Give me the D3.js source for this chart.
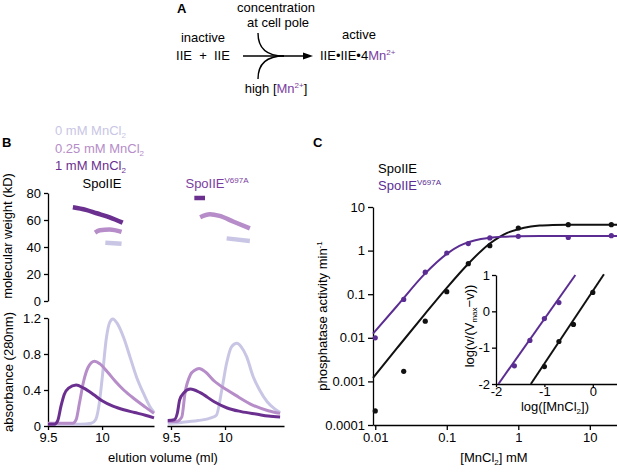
<!DOCTYPE html>
<html lang="en">
<head>
<meta charset="utf-8">
<title>SpoIIE manganese activation</title>
<script src="https://cdn.jsdelivr.net/npm/d3@7"></script>
<style>
  body { margin: 0; background: #fff; }
  svg { font-family: "Liberation Sans", Arial, sans-serif; }
  .axis path, .axis line { stroke: #000; stroke-width: 1.3; }
  .axis text { font-size: 13px; fill: #000; font-family: "Liberation Sans", Arial, sans-serif; }
  .lbl { font-size: 13px; }
</style>
</head>
<body>
<div id="chart"></div>
<script>
const w = 617, h = 473;

// ---------- data: panel B (gel filtration) ----------
const mnLabels = ["0 mM MnCl", "0.25 mM MnCl", "1 mM MnCl"];
const proteins = ["SpoIIE", "SpoIIE"];
const mwTicks = [0, 20, 40, 60, 80];
const absTicks = [0, 0.4, 0.8, 1.2];
const elutionTicks = [9.5, 10];

// absorbance traces [elution ml, A280]
const absWT_0 = [[9.5,0.02],[9.8,0.02],[9.9,0.03],[9.94,0.07],[9.97,0.22],[10.0,0.52],[10.04,0.98],[10.07,1.15],[10.1,1.19],[10.14,1.14],[10.2,0.98],[10.26,0.76],[10.32,0.54],[10.38,0.37],[10.44,0.22],[10.48,0.15]];
const absWT_025 = [[9.5,0.03],[9.73,0.03],[9.76,0.07],[9.79,0.25],[9.83,0.5],[9.87,0.65],[9.93,0.72],[9.98,0.69],[10.05,0.6],[10.12,0.5],[10.2,0.4],[10.3,0.3],[10.4,0.21],[10.48,0.14]];
const absWT_1 = [[9.5,0.02],[9.56,0.02],[9.59,0.06],[9.62,0.22],[9.65,0.35],[9.69,0.42],[9.76,0.455],[9.83,0.42],[9.92,0.35],[10.0,0.28],[10.1,0.22],[10.2,0.18],[10.3,0.15],[10.4,0.12],[10.48,0.09]];
const absMut_0 = [[9.47,0.03],[9.6,0.04],[9.75,0.06],[9.87,0.09],[9.92,0.12],[9.97,0.4],[10.015,0.7],[10.06,0.88],[10.11,0.92],[10.15,0.88],[10.2,0.77],[10.26,0.55],[10.32,0.4],[10.39,0.27],[10.46,0.19],[10.51,0.15]];
const absMut_025 = [[9.47,0.05],[9.55,0.05],[9.6,0.1],[9.63,0.37],[9.68,0.57],[9.72,0.62],[9.76,0.64],[9.82,0.6],[9.9,0.5],[10.02,0.4],[10.1,0.34],[10.26,0.23],[10.4,0.17],[10.51,0.14]];
const absMut_1 = [[9.47,0.06],[9.53,0.07],[9.56,0.15],[9.58,0.29],[9.62,0.37],[9.68,0.41],[9.77,0.37],[9.9,0.27],[10.02,0.2],[10.15,0.16],[10.3,0.13],[10.4,0.11],[10.51,0.1]];

// molecular weight traces [elution ml, kD]
const mwWT_0 = [[10.03,43.2],[10.18,42.4]];
const mwWT_025 = [[9.935,50.6],[9.98,52.4],[10.07,53],[10.18,51.2]];
const mwWT_1 = [[9.73,69.4],[9.85,67.5],[9.95,65],[10.07,62],[10.19,58]];
const mwMut_0 = [[10.015,46.4],[10.23,44.4]];
const mwMut_025 = [[9.77,62],[9.86,64.2],[9.95,63],[10.08,58.7],[10.23,53.8]];
const mwMut_1 = [[9.716,76.3],[9.815,76.3]];

// ---------- data: panel C (phosphatase activity) ----------
const conc = [0.01, 0.025, 0.05, 0.1, 0.2, 0.4, 1, 5, 20];
const actWT = [0.00021, 0.0017, 0.024, 0.114, 0.5, 1.3, 3.3, 3.93, 3.93];
const actMut = [0.01, 0.076, 0.32, 0.88, 1.45, 1.95, 2.13, 2.0, 2.2];
const fitWT = [[0.0093,0.0012],[0.02,0.0057],[0.05,0.036],[0.1,0.14],[0.2,0.5],[0.3,0.97],[0.4,1.45],[0.55,2.07],[0.7,2.55],[1,3.1],[1.5,3.55],[2,3.75],[3,3.88],[5,3.93],[10,3.93],[24,3.93]];
const fitMut = [[0.0093,0.0125],[0.02,0.053],[0.05,0.3],[0.1,0.84],[0.15,1.28],[0.2,1.55],[0.3,1.85],[0.4,1.98],[0.6,2.08],[1,2.13],[2,2.15],[5,2.15],[24,2.15]];
const actTicksY = [10, 1, 0.1, 0.01, 0.001, 0.0001];
const actTicksX = [0.01, 0.1, 1, 10];

// inset: Hill plot
const hillX_WT = [-1, -0.7, -0.4, 0];
const hillY_WT = [-1.52, -0.83, -0.36, 0.52];
const hillX_Mut = [-1.62, -1.3, -1.0, -0.7];
const hillY_Mut = [-1.5, -0.8, -0.2, 0.24];
const hillFitWT = [[-1.28,-2],[0.23,1.02]];
const hillFitMut = [[-1.95,-2],[-0.36,1.0]];
const hillTicksY = [1, 0, -1, -2];
const hillTicksX = [-2, -1, 0];

// ---------- styles ----------
const mnColor = ["#c9c6e5", "#b68dc8", "#6a2f8f"];
const mutPurple = "#5b2d92";
const labelPurple = "#7a3ea0";

const svg = d3.select("#chart").append("svg")
  .attr("width", w).attr("height", h);

// text with sub/superscript parts
function rich(g, x, y, parts, anchor) {
  const t = g.append("text").attr("x", x).attr("y", y)
    .attr("class", "lbl").attr("text-anchor", anchor || "start")
    .style("white-space", "pre");
  let shift = 0;
  parts.forEach(p => {
    const s = p.sup ? -5 : p.sub ? 3 : 0;
    const ts = t.append("tspan").text(p.t).attr("dy", s - shift);
    if (p.sup || p.sub) ts.attr("font-size", "8px");
    if (p.fill) ts.attr("fill", p.fill);
    shift = s;
  });
  return t;
}

// ================= Panel A =================
const gA = svg.append("g");
gA.append("text").attr("x", 177).attr("y", 13).attr("font-weight", "bold").attr("font-size", "13px").text("A");
rich(gA, 276, 12, [{t: "concentration"}], "middle");
rich(gA, 278, 27, [{t: "at cell pole"}], "middle");
rich(gA, 203, 42, [{t: "inactive"}], "middle");
rich(gA, 203, 60, [{t: "IIE  +  IIE"}], "middle");
rich(gA, 276, 93, [{t: "high ["}, {t: "Mn", fill: labelPurple}, {t: "2+", sup: true, fill: labelPurple}, {t: "]"}], "middle");
rich(gA, 359, 39, [{t: "active"}], "middle");
rich(gA, 320, 60, [{t: "IIE•IIE•4"}, {t: "Mn", fill: labelPurple}, {t: "2+", sup: true, fill: labelPurple}]);

gA.append("line").attr("x1", 243).attr("y1", 56).attr("x2", 305).attr("y2", 56)
  .attr("stroke", "#000").attr("stroke-width", 1.4);
gA.append("path").attr("d", "M313,56 L303,52.5 L303,59.5 Z").attr("fill", "#000");
gA.append("path").attr("d", "M258,33 C258,47 266,56 284,56").attr("fill", "none").attr("stroke", "#000").attr("stroke-width", 1.4);
gA.append("path").attr("d", "M258,79 C258,65 266,56 284,56").attr("fill", "none").attr("stroke", "#000").attr("stroke-width", 1.4);

// ================= Panel B =================
const gB = svg.append("g");
gB.append("text").attr("x", 2).attr("y", 147).attr("font-weight", "bold").attr("font-size", "13px").text("B");

mnLabels.forEach((m, i) => {
  rich(gB, 55, 135 + i * 17.5, [{t: m, fill: mnColor[i]}, {t: "2", sub: true, fill: mnColor[i]}]);
});
rich(gB, 102, 188, [{t: proteins[0]}], "middle");
rich(gB, 217, 188, [{t: proteins[1], fill: labelPurple}, {t: "V697A", sup: true, fill: labelPurple}], "middle");

const xL = d3.scaleLinear().domain([9.5, 10.48]).range([48, 154]);
const xR = d3.scaleLinear().domain([9.463, 10.546]).range([167, 284]);
const yMW = d3.scaleLinear().domain([0, 80]).range([301, 193]);
const yAbs = d3.scaleLinear().domain([0, 1.2]).range([426, 318]);

gB.append("g").attr("class", "axis").attr("transform", "translate(48,0)")
  .call(d3.axisLeft(yMW).tickValues(mwTicks).tickSize(4).tickSizeOuter(0).tickPadding(3));
gB.append("g").attr("class", "axis").attr("transform", "translate(48,0)")
  .call(d3.axisLeft(yAbs).tickValues(absTicks).tickSize(4).tickSizeOuter(0).tickPadding(3)
    .tickFormat(d => d === 0 ? "0" : d3.format(".1f")(d)));
gB.append("g").attr("class", "axis").attr("transform", "translate(0,426)")
  .call(d3.axisBottom(xL).tickValues(elutionTicks).tickSize(4).tickSizeOuter(0).tickFormat(d => d));
gB.append("g").attr("class", "axis").attr("transform", "translate(0,426)")
  .call(d3.axisBottom(xR).tickValues(elutionTicks).tickSize(4).tickSizeOuter(0).tickFormat(d => d));

gB.append("text").attr("class", "lbl").attr("transform", "translate(12,236) rotate(-90)")
  .attr("text-anchor", "middle").text("molecular weight (kD)");
gB.append("text").attr("class", "lbl").attr("transform", "translate(13,372) rotate(-90)")
  .attr("text-anchor", "middle").text("absorbance (280nm)");
gB.append("text").attr("class", "lbl").attr("x", 163).attr("y", 462)
  .attr("text-anchor", "middle").text("elution volume (ml)");

function trace(g, data, xs, ys, color, width) {
  const line = d3.line().x(d => xs(d[0])).y(d => ys(d[1])).curve(d3.curveMonotoneX);
  g.append("path").datum(data).attr("d", line)
    .attr("fill", "none").attr("stroke", color).attr("stroke-width", width)
    .attr("stroke-linejoin", "round");
}

[absWT_0, absWT_025, absWT_1].forEach((d, i) => trace(gB, d, xL, yAbs, mnColor[i], 3));
[absMut_0, absMut_025, absMut_1].forEach((d, i) => trace(gB, d, xR, yAbs, mnColor[i], 3));
[mwWT_0, mwWT_025, mwWT_1].forEach((d, i) => trace(gB, d, xL, yMW, mnColor[i], 4.5));
[mwMut_0, mwMut_025, mwMut_1].forEach((d, i) => trace(gB, d, xR, yMW, mnColor[i], 4.5));

// ================= Panel C =================
const gC = svg.append("g");
gC.append("text").attr("x", 313).attr("y", 147).attr("font-weight", "bold").attr("font-size", "13px").text("C");
rich(gC, 378, 173, [{t: "SpoIIE"}]);
rich(gC, 378, 190, [{t: "SpoIIE", fill: mutPurple}, {t: "V697A", sup: true, fill: mutPurple}]);

const xC = d3.scaleLog().domain([0.0093, 24]).range([373, 617]);
const yC = d3.scaleLog().domain([0.0001, 10]).range([425, 207]);

gC.append("g").attr("class", "axis").attr("transform", "translate(373,0)")
  .call(d3.axisLeft(yC).tickValues(actTicksY).tickSize(5).tickSizeOuter(0).tickPadding(3).tickFormat(d => String(d)));
gC.append("g").attr("class", "axis").attr("transform", "translate(0,425)")
  .call(d3.axisBottom(xC).tickValues(actTicksX).tickSize(5).tickSizeOuter(0).tickPadding(3).tickFormat(d => String(d)));

gC.append("text").attr("class", "lbl").attr("transform", "translate(327,316) rotate(-90)")
  .attr("text-anchor", "middle")
  .call(t => {
    t.append("tspan").text("phosphatase activity min");
    t.append("tspan").text("-1").attr("font-size", "8px").attr("dy", -5);
  });
rich(gC, 494, 462, [{t: "[MnCl"}, {t: "2", sub: true}, {t: "] mM"}], "middle");

const lineC = d3.line().x(d => xC(d[0])).y(d => yC(d[1])).curve(d3.curveMonotoneX);
gC.append("path").datum(fitWT).attr("d", lineC).attr("fill", "none").attr("stroke", "#111").attr("stroke-width", 2);
gC.append("path").datum(fitMut).attr("d", lineC).attr("fill", "none").attr("stroke", mutPurple).attr("stroke-width", 2);

gC.selectAll("circle.wt").data(conc).enter().append("circle").attr("class", "wt")
  .attr("cx", d => xC(d)).attr("cy", (d, i) => yC(actWT[i])).attr("r", 2.6).attr("fill", "#111");
gC.selectAll("circle.mut").data(conc).enter().append("circle").attr("class", "mut")
  .attr("cx", d => xC(d)).attr("cy", (d, i) => yC(actMut[i])).attr("r", 2.6).attr("fill", mutPurple);

// inset
const xI = d3.scaleLinear().domain([-2, 0.5]).range([496, 617]);
const yI = d3.scaleLinear().domain([-2, 1]).range([384, 275]);

gC.append("g").attr("class", "axis").attr("transform", "translate(496,0)")
  .call(d3.axisLeft(yI).tickValues(hillTicksY).tickSize(4).tickSizeOuter(0).tickPadding(2).tickFormat(d => String(d)));
gC.append("g").attr("class", "axis").attr("transform", "translate(0,384)")
  .call(d3.axisBottom(xI).tickValues(hillTicksX).tickSize(3).tickSizeOuter(0).tickPadding(0).tickFormat(d => String(d)));

gC.append("text").attr("class", "lbl").attr("transform", "translate(474,326) rotate(-90)")
  .attr("text-anchor", "middle")
  .call(t => {
    t.append("tspan").text("log(v/(V");
    t.append("tspan").text("max").attr("font-size", "8px").attr("dy", 3);
    t.append("tspan").text("\u2212v))").attr("dy", -3);
  });
rich(gC, 555, 411, [{t: "log([MnCl"}, {t: "2", sub: true}, {t: "])"}], "middle");

const lineI = d3.line().x(d => xI(d[0])).y(d => yI(d[1]));
gC.append("path").datum(hillFitWT).attr("d", lineI).attr("stroke", "#111").attr("stroke-width", 2);
gC.append("path").datum(hillFitMut).attr("d", lineI).attr("stroke", mutPurple).attr("stroke-width", 2);
gC.selectAll("circle.hwt").data(hillX_WT).enter().append("circle").attr("class", "hwt")
  .attr("cx", d => xI(d)).attr("cy", (d, i) => yI(hillY_WT[i])).attr("r", 2.6).attr("fill", "#111");
gC.selectAll("circle.hmut").data(hillX_Mut).enter().append("circle").attr("class", "hmut")
  .attr("cx", d => xI(d)).attr("cy", (d, i) => yI(hillY_Mut[i])).attr("r", 2.6).attr("fill", mutPurple);
</script>
</body>
</html>
